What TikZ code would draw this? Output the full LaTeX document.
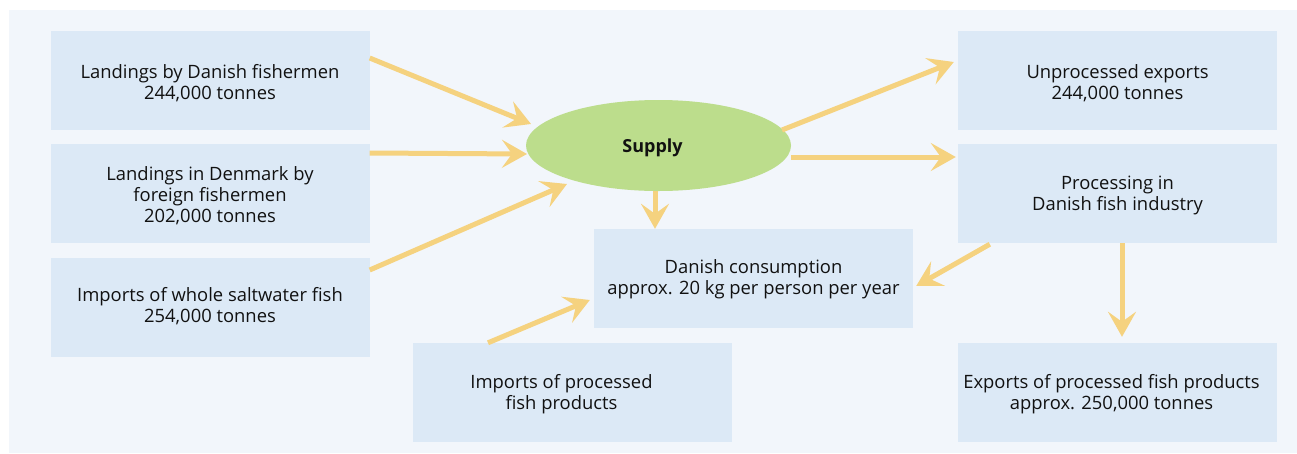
\documentclass[tikz,border=0pt]{standalone}
\usepackage{fontspec}
\setmainfont{Open Sans}
\usetikzlibrary{arrows.meta,shapes.geometric,calc}

\definecolor{panelbg}{HTML}{F2F6FB}
\definecolor{boxfill}{HTML}{DCE9F6}
\definecolor{supplyfill}{HTML}{BCDD8C}
\definecolor{flowcol}{HTML}{F5D27F}
\definecolor{txtcol}{HTML}{111111}

\tikzset{
  box/.style={rectangle, fill=boxfill, draw=none, minimum width=319pt,
    minimum height=99pt, inner sep=0pt},
  txt/.style={align=center, text=txtcol, font=\fontsize{18.4}{21}\selectfont,
    inner sep=0pt},
  supplynode/.style={ellipse, fill=supplyfill, draw=none,
    minimum width=265pt, minimum height=91pt, inner sep=0pt},
  flow/.style={draw=flowcol, line width=5pt,
    -{Stealth[length=25pt, width=28pt, inset=10pt, fill=flowcol]}}
}

\begin{document}
\begin{tikzpicture}[x=1pt, y=-1pt]
  % canvas and light panel
  \fill[white] (0,0) rectangle (1297,453);
  \fill[panelbg] (9,10) rectangle (1297,453);
  \useasboundingbox (0,0) rectangle (1297,453);

  % boxes
  \node[box] (a) at (210,80.5) {};
  \node[box] (b) at (210,193.5) {};
  \node[box] (c) at (210,307) {};
  \node[box] (cons) at (753.5,278.5) {};
  \node[box] (imp) at (572.5,392.5) {};
  \node[box] (unp) at (1117.5,80.5) {};
  \node[box] (proc) at (1117.5,193.5) {};
  \node[box] (exp) at (1117.5,392.5) {};

  % central supply ellipse
  \node[supplynode] (s) at (658.5,145.5) {};
  \node[txt, font=\fontsize{18}{21}\selectfont\bfseries] (st) at (652.5,148) {Supply};

  % box texts
  \node[txt] (at) at ($(a)+(0,3)$) {Landings by Danish fishermen\\244,000 tonnes};
  \node[txt] (bt) at ($(b)+(0,2)$) {Landings in Denmark by\\foreign fishermen\\202,000 tonnes};
  \node[txt] (ct) at ($(c)+(0,-1)$) {Imports of whole saltwater fish\\254,000 tonnes};
  \node[txt] (const) at ($(cons)+(0,1)$) {Danish consumption\\approx. 20 kg per person per year};
  \node[txt] (impt) at ($(imp)+(-11,2)$) {Imports of processed\\fish products};
  \node[txt] (unpt) at ($(unp)+(0,3)$) {Unprocessed exports\\244,000 tonnes};
  \node[txt] (proct) at ($(proc)+(0,2)$) {Processing in\\Danish fish industry};
  \node[txt] (expt) at ($(exp)+(-6,2)$) {Exports of processed fish products\\approx. 250,000 tonnes};

  % flows into supply
  \draw[flow] ($(a.east)+(0,-22.5)$) -- ($(s.center)+(-127.5,-21.5)$);
  \draw[flow] ($(b.east)+(0,-40.5)$) -- ($(s.center)+(-131.5,8.5)$);
  \draw[flow] ($(c.east)+(0,-37)$) -- ($(s.center)+(-91.5,38.5)$);

  % flows out of supply
  \draw[flow] ($(s.south)+(-3.5,0)$) -- ($(cons.north)+(-98.5,0)$);
  \draw[flow] ($(s.center)+(123.5,-15.5)$) -- ($(unp.west)+(-4,-18.5)$);
  \draw[flow] ($(s.center)+(132.5,11.5)$) -- ($(proc.west)+(-2,-36.5)$);

  % processing outputs
  \draw[flow] ($(proc.south west)+(32,1)$) -- ($(cons.east)+(3,7.5)$);
  \draw[flow] ($(proc.south)+(4.5,0)$) -- ($(exp.north)+(4.5,-6)$);

  % processed imports
  \draw[flow] ($(imp.north)+(-84.5,0)$) -- ($(cons.west)+(-4,21.5)$);
\end{tikzpicture}
\end{document}
